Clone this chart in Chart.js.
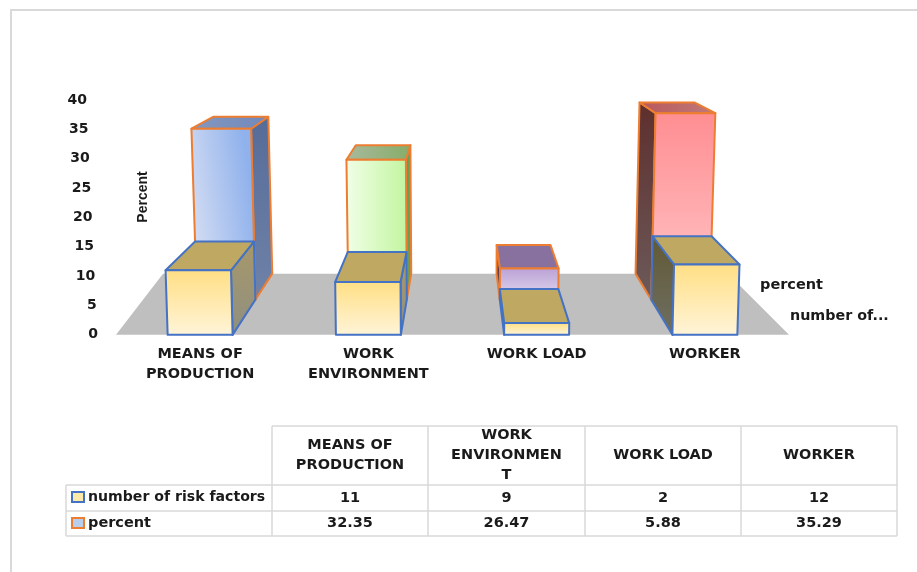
<!DOCTYPE html>
<html>
<head>
<meta charset="utf-8">
<title>Risk factors</title>
<style>
    html, body { margin: 0; padding: 0; background: #fff; }
    canvas { display: block; }
</style>
<script src="https://cdn.jsdelivr.net/npm/chart.js@4/dist/chart.umd.js"></script>
</head>
<body>
<canvas id="riskChart" width="917" height="572"></canvas>
<script>
// Chart data
const categories = [['MEANS OF', 'PRODUCTION'], ['WORK', 'ENVIRONMENT'], ['WORK LOAD'], ['WORKER']];
const tableHeaders = [['MEANS OF', 'PRODUCTION'], ['WORK', 'ENVIRONMEN', 'T'], ['WORK LOAD'], ['WORKER']];
const riskFactors = [11, 9, 2, 12];
const percents = [32.35, 26.47, 5.88, 35.29];
const riskFactorsName = 'number of risk factors';
const percentsName = 'percent';
const riskFactorsDepthLabel = 'number of...';
const percentsDepthLabel = 'percent';
const yTitle = 'Percent';

// 3D look: everything is pushed towards one vanishing point
const FONT = '"DejaVu Sans", sans-serif';
const VANISH_Y = -17;
const VANISH_DX = 8;
const DEPTH_MID = 0.9;
const DEPTH_BACK = 0.826;
const SPREAD = 0.00011;

const BLUE_LINE = '#4472c4';
const ORANGE_LINE = '#ed7d31';

const frontLook = {
    front: ['v', '#ffdf85', '#fff4d8'],
    top: ['v', '#bfa862', '#bfa862'],
    sides: [
        ['v', '#a8986a', '#8f8f80'],
        ['v', '#a8986a', '#8f8f80'],
        ['v', '#3f5a9a', '#3f5a9a'],
        ['v', '#625a36', '#6e6e62']
    ]
};
const backLooks = [
    { front: ['d', '#d2dcf3', '#8fb1ec'], top: ['h', '#8397bd', '#7189bc'], side: ['v', '#566c98', '#6f82a8'] },
    { front: ['h', '#f0fee6', '#c3f5a0'], top: ['h', '#a8b99c', '#86ad69'], side: ['v', '#6e9a55', '#6e9a55'] },
    { front: ['v', '#bba3d6', '#e3daf0'], top: ['v', '#88719f', '#88719f'], side: ['v', '#3f3350', '#4a3a5a'] },
    { front: ['v', '#ff8e92', '#ffc7c9'], top: ['h', '#b9585c', '#c07a78'], side: ['v', '#5e2f2d', '#6c5a5a'] }
];

function project(area, px, py, depth) {
    const vx = (area.left + area.right) / 2 + VANISH_DX;
    const rise = area.bottom - py;
    return {
        x: vx + (px - vx) * depth * (1 + SPREAD * rise),
        y: VANISH_Y + (py - VANISH_Y) * depth
    };
}

function faceGradient(ctx, pts, dir) {
    const x0 = Math.min(...pts.map(p => p.x));
    const x1 = Math.max(...pts.map(p => p.x));
    const y0 = Math.min(...pts.map(p => p.y));
    const y1 = Math.max(...pts.map(p => p.y));
    if (dir === 'h') return ctx.createLinearGradient(x0, 0, x1, 0);
    // mostly across the face, tipped up a little to the right
    if (dir === 'd') return ctx.createLinearGradient(x0, (y0 + y1) / 2 + 5, x1, (y0 + y1) / 2 - 5);
    return ctx.createLinearGradient(0, y0, 0, y1);
}

function fillFace(ctx, pts, look, line) {
    const grad = faceGradient(ctx, pts, look[0]);
    grad.addColorStop(0, look[1]);
    grad.addColorStop(1, look[2]);
    ctx.beginPath();
    pts.forEach((p, i) => i ? ctx.lineTo(p.x, p.y) : ctx.moveTo(p.x, p.y));
    ctx.closePath();
    ctx.fillStyle = grad;
    ctx.fill();
    ctx.lineWidth = 2;
    ctx.strokeStyle = line;
    ctx.stroke();
}

function drawBox(ctx, area, bar, near, far, look, sideLook, line) {
    const L = bar.x - bar.width / 2;
    const R = bar.x + bar.width / 2;
    const T = bar.y;
    const B = bar.base;
    const vx = (area.left + area.right) / 2 + VANISH_DX;
    const edge = R < vx ? R : L;

    fillFace(ctx, [
        project(area, edge, T, near), project(area, edge, T, far),
        project(area, edge, B, far), project(area, edge, B, near)
    ], sideLook, line);
    fillFace(ctx, [
        project(area, L, T, near), project(area, R, T, near),
        project(area, R, T, far), project(area, L, T, far)
    ], look.top, line);
    fillFace(ctx, [
        project(area, L, T, near), project(area, R, T, near),
        project(area, R, B, near), project(area, L, B, near)
    ], look.front, line);
}

// Floor and boxes, placed from the bar elements Chart.js lays out
const boxes3d = {
    id: 'boxes3d',
    beforeDatasetsDraw(chart) {
        const { ctx, chartArea: area } = chart;
        const backY = project(area, area.left, area.bottom, DEPTH_BACK).y;
        ctx.save();
        ctx.fillStyle = '#bfbfbf';
        ctx.beginPath();
        ctx.moveTo(area.left, area.bottom);
        ctx.lineTo(area.right, area.bottom);
        ctx.lineTo(area.right - 61, backY);
        ctx.lineTo(area.left + 47, backY);
        ctx.closePath();
        ctx.fill();
        ctx.restore();
    },
    afterDatasetsDraw(chart) {
        const { ctx, chartArea: area } = chart;
        ctx.save();
        ctx.lineJoin = 'round';
        chart.getDatasetMeta(1).data.forEach((bar, i) => {
            const look = backLooks[i];
            drawBox(ctx, area, bar, DEPTH_MID, DEPTH_BACK, look, look.side, ORANGE_LINE);
        });
        chart.getDatasetMeta(0).data.forEach((bar, i) => {
            drawBox(ctx, area, bar, 1, DEPTH_MID, frontLook, frontLook.sides[i], BLUE_LINE);
        });
        ctx.restore();
    }
};

// Slanted value labels, axis title, depth labels, data table and frame
const annotations = {
    id: 'annotations',
    afterDraw(chart) {
        const { ctx, chartArea: area, scales } = chart;
        ctx.save();

        // frame
        ctx.strokeStyle = '#d9d9d9';
        ctx.lineWidth = 2;
        ctx.beginPath();
        ctx.moveTo(917, 10);
        ctx.lineTo(11, 10);
        ctx.lineTo(11, 572);
        ctx.stroke();

        // value axis labels lean with the floor
        ctx.fillStyle = '#1a1a1a';
        ctx.font = 'bold 14px ' + FONT;
        ctx.textAlign = 'right';
        ctx.textBaseline = 'middle';
        scales.y.ticks.forEach((tick, i) => {
            const y = scales.y.getPixelForTick(i);
            const right = area.left - 18 - 11 * (area.bottom - y) / (area.bottom - area.top);
            ctx.fillText(tick.label, right, y);
        });

        // axis title
        ctx.save();
        ctx.translate(143, 197);
        ctx.rotate(-Math.PI / 2);
        ctx.font = 'bold 14px "Liberation Sans Narrow", "Liberation Sans", sans-serif';
        ctx.textAlign = 'center';
        ctx.fillText(yTitle, 0, 0);
        ctx.restore();

        // series labels on the depth axis
        ctx.font = 'bold 14.5px ' + FONT;
        ctx.textAlign = 'left';
        ctx.fillText(percentsDepthLabel, 760, 285);
        ctx.font = 'bold 14.3px ' + FONT;
        ctx.fillText(riskFactorsDepthLabel, 790, 316);

        // table grid
        const colX = [272, 428, 585, 741, 897];
        const rowY = [426, 485, 511, 536];
        ctx.strokeStyle = '#d9d9d9';
        ctx.lineWidth = 1.5;
        ctx.beginPath();
        colX.forEach(x => { ctx.moveTo(x, rowY[0]); ctx.lineTo(x, rowY[3]); });
        ctx.moveTo(66, rowY[1]); ctx.lineTo(66, rowY[3]);
        ctx.moveTo(colX[0], rowY[0]); ctx.lineTo(colX[4], rowY[0]);
        ctx.moveTo(66, rowY[1]); ctx.lineTo(colX[4], rowY[1]);
        ctx.moveTo(66, rowY[2]); ctx.lineTo(colX[4], rowY[2]);
        ctx.moveTo(66, rowY[3]); ctx.lineTo(colX[4], rowY[3]);
        ctx.stroke();

        // table header
        ctx.fillStyle = '#1a1a1a';
        ctx.font = 'bold 14.5px ' + FONT;
        ctx.textAlign = 'center';
        tableHeaders.forEach((lines, c) => {
            const cx = (colX[c] + colX[c + 1]) / 2;
            const cy = (rowY[0] + rowY[1]) / 2;
            lines.forEach((text, l) => {
                ctx.fillText(text, cx, cy + (l - (lines.length - 1) / 2) * 20);
            });
        });

        // table values
        [riskFactors, percents].forEach((values, r) => {
            const cy = (rowY[r + 1] + rowY[r + 2]) / 2;
            values.forEach((v, c) => {
                ctx.fillText(String(v), (colX[c] + colX[c + 1]) / 2, cy);
            });
        });

        // row names with their keys
        ctx.textAlign = 'left';
        ctx.fillText(percentsName, 88, 523.5);
        ctx.font = 'bold 14.1px ' + FONT;
        ctx.fillText(riskFactorsName, 88, 497.5);
        ctx.lineWidth = 2;
        ctx.fillStyle = '#ffe9a8';
        ctx.strokeStyle = BLUE_LINE;
        ctx.fillRect(72, 492, 12, 10);
        ctx.strokeRect(72, 492, 12, 10);
        ctx.fillStyle = '#b7cfec';
        ctx.strokeStyle = ORANGE_LINE;
        ctx.fillRect(72, 518, 12, 10);
        ctx.strokeRect(72, 518, 12, 10);

        ctx.restore();
    }
};

new Chart(document.getElementById('riskChart'), {
    type: 'bar',
    data: {
        labels: categories,
        datasets: [
            { label: riskFactorsName, data: riskFactors, backgroundColor: 'transparent', grouped: false },
            { label: percentsName, data: percents, backgroundColor: 'transparent', grouped: false }
        ]
    },
    options: {
        responsive: false,
        animation: false,
        barPercentage: 0.386,
        categoryPercentage: 1,
        layout: { padding: { left: 108, right: 128, top: 100, bottom: 186 } },
        plugins: {
            legend: { display: false },
            tooltip: { enabled: false }
        },
        scales: {
            x: {
                grid: { display: false },
                border: { display: false },
                ticks: {
                    maxRotation: 0,
                    autoSkip: false,
                    padding: 2,
                    color: '#1a1a1a',
                    font: { family: FONT, size: 14.5, weight: 'bold', lineHeight: 1.35 }
                }
            },
            y: {
                min: 0,
                max: 40,
                ticks: { stepSize: 5, display: false },
                grid: { display: false },
                border: { display: false }
            }
        }
    },
    plugins: [boxes3d, annotations]
});
</script>
</body>
</html>
